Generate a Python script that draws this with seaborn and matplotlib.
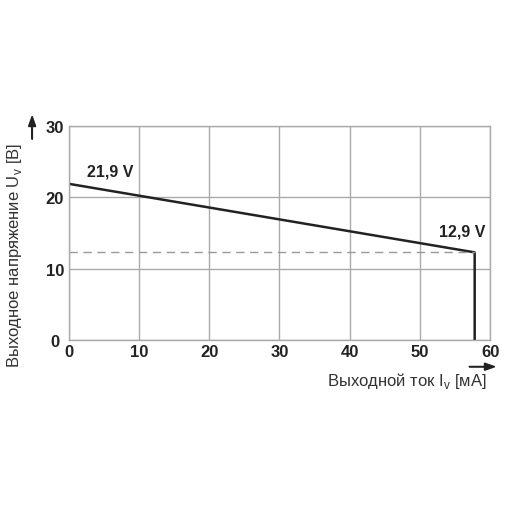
import pandas as pd
import matplotlib.pyplot as plt
import seaborn as sns

# Data
current_ma = [0, 57.8, 57.8]
voltage_v = [21.9, 12.3, 0]
dash_x = [0, 57.8]
dash_y = [12.3, 12.3]
x_ticks = [0, 10, 20, 30, 40, 50, 60]
y_ticks = [0, 10, 20, 30]

sns.set_style('white')
plt.rcParams['font.family'] = ['Liberation Sans', 'DejaVu Sans']
plt.rcParams['mathtext.fontset'] = 'custom'
plt.rcParams['mathtext.rm'] = 'Liberation Sans'

df = pd.DataFrame({'I': current_ma, 'U': voltage_v})

fig = plt.figure(figsize=(5.1, 5.1), dpi=100)
ax = fig.add_axes([0.135, 0.331, 0.826, 0.42])

sns.lineplot(data=df, x='I', y='U', sort=False, estimator=None, color='#222222', linewidth=1.8, ax=ax)
ax.plot(dash_x, dash_y, color='#999999', linestyle=(0, (6, 4)), linewidth=1)

ax.set_xlim(0, 60)
ax.set_ylim(0, 30)
ax.set_xticks(x_ticks)
ax.set_yticks(y_ticks)
ax.grid(True, color='#aaaaaa', linewidth=1)
ax.set_axisbelow(True)
for s in ax.spines.values():
    s.set_color('#aaaaaa')
    s.set_linewidth(1)
ax.tick_params(length=0, labelsize=12, labelcolor='#222222')
ax.tick_params(axis='x', pad=3)
ax.tick_params(axis='y', pad=10)
for t in ax.get_xticklabels() + ax.get_yticklabels():
    t.set_fontweight('bold')
for t in ax.get_yticklabels():
    t.set_horizontalalignment('center')

ax.set_xlabel('')
ax.set_ylabel('')

ax.text(5.9, 22.6, '21,9 V', fontsize=11.5, fontweight='bold', color='#222222', ha='center', va='bottom')
ax.text(56.0, 14.2, '12,9 V', fontsize=11.5, fontweight='bold', color='#222222', ha='center', va='bottom')

fig.text(0.955, 0.253, r'Выходной ток I$_\mathregular{v}$ [мА]', fontsize=12, color='#333333', ha='right', va='center')
fig.text(0.028, 0.5, r'Выходное напряжение U$_\mathregular{v}$ [B]', fontsize=12, color='#333333',
         ha='center', va='center', rotation=90)

# axis arrows
fig.patches.append(plt.matplotlib.patches.FancyArrow(0.92, 0.279, 0.05, 0, width=0.001, head_width=0.014,
                                                     head_length=0.02, length_includes_head=True,
                                                     color='#222222', transform=fig.transFigure))
fig.patches.append(plt.matplotlib.patches.FancyArrow(0.063, 0.725, 0, 0.045, width=0.001, head_width=0.014,
                                                     head_length=0.02, length_includes_head=True,
                                                     color='#222222', transform=fig.transFigure))

fig.savefig('out.png', dpi=100)
